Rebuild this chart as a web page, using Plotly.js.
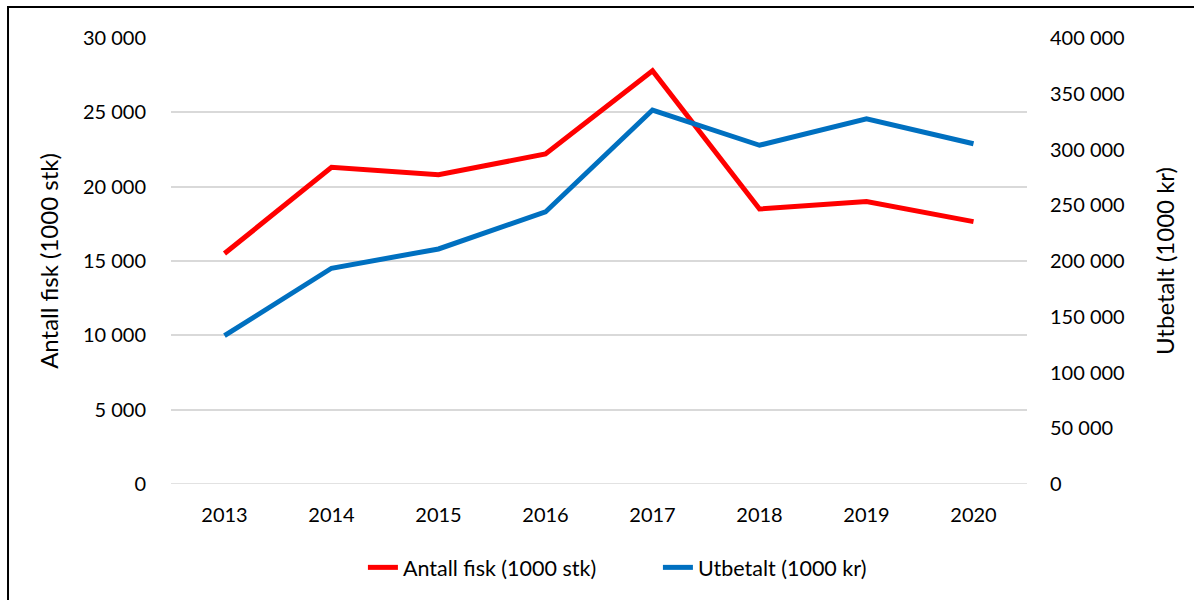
<!DOCTYPE html>
<html>
<head>
<meta charset="utf-8">
<script src="https://cdn.plot.ly/plotly-3.0.1.min.js"></script>
<style>
  html, body { margin: 0; padding: 0; background: #fff; }
  #chart { width: 1194px; height: 600px; }
</style>
</head>
<body>
<div id="chart"></div>
<script>
const years = ['2013', '2014', '2015', '2016', '2017', '2018', '2019', '2020'];
const antallFisk = [15500, 21300, 20800, 22200, 27800, 18500, 19000, 17650];
const utbetalt = [133000, 193500, 210800, 244000, 335400, 303800, 327600, 305200];
const leftTicks = [0, 5000, 10000, 15000, 20000, 25000, 30000];
const rightTicks = [0, 50000, 100000, 150000, 200000, 250000, 300000, 350000, 400000];

const FONT = 'Lato, Open Sans, sans-serif';
const TXT = '#000000';

const traces = [
  {
    x: years, y: antallFisk, name: 'Antall fisk (1000 stk)',
    type: 'scatter', mode: 'lines', yaxis: 'y',
    line: { color: '#ff0000', width: 5 }
  },
  {
    x: years, y: utbetalt, name: 'Utbetalt (1000 kr)',
    type: 'scatter', mode: 'lines', yaxis: 'y2',
    line: { color: '#0070c0', width: 5 }
  }
];

const layout = {
  width: 1194, height: 600,
  margin: { l: 171, r: 167, t: 38, b: 116, autoexpand: false },
  paper_bgcolor: '#ffffff', plot_bgcolor: '#ffffff',
  separators: ', ',
  font: { family: FONT, size: 18, color: TXT },
  showlegend: true,
  legend: {
    orientation: 'h', x: 0.2242, xanchor: 'left', y: -0.141, yanchor: 'top',
    font: { family: FONT, size: 21.5, color: TXT },
    entrywidth: 250, entrywidthmode: 'pixels', traceorder: 'normal'
  },
  xaxis: {
    type: 'category', range: [-0.5, 7.5],
    showgrid: false, zeroline: false, showline: false,
    ticks: 'outside', ticklen: 13, tickcolor: 'rgba(0,0,0,0)',
    tickfont: { family: FONT, size: 20, color: TXT }
  },
  yaxis: {
    range: [0, 30000], tickvals: leftTicks, tickformat: ',d',
    showgrid: true, gridcolor: '#d9d9d9', gridwidth: 1.5,
    zeroline: false, showline: false,
    ticks: 'outside', ticklen: 20, tickcolor: 'rgba(0,0,0,0)',
    tickfont: { family: FONT, size: 20, color: TXT },
    title: { text: 'Antall fisk (1000 stk)', font: { family: FONT, size: 24, color: TXT }, standoff: 17 }
  },
  yaxis2: {
    range: [0, 400000], tickvals: rightTicks, tickformat: ',d',
    overlaying: 'y', side: 'right',
    showgrid: false, zeroline: false, showline: false,
    ticks: 'outside', ticklen: 18, tickcolor: 'rgba(0,0,0,0)',
    tickfont: { family: FONT, size: 20, color: TXT },
    title: { text: 'Utbetalt (1000 kr)', font: { family: FONT, size: 24, color: TXT }, standoff: 33 }
  },
  shapes: [
    {
      type: 'line', xref: 'paper', yref: 'y',
      x0: 0, x1: 1, y0: leftTicks[0], y1: leftTicks[0],
      line: { color: '#d9d9d9', width: 1.5 }, layer: 'below'
    },
    {
      type: 'rect', xref: 'paper', yref: 'paper',
      x0: -0.1904, x1: 1.21, y0: -0.28, y1: 1.0695,
      line: { color: '#000000', width: 2 }, fillcolor: 'rgba(0,0,0,0)', layer: 'below'
    }
  ]
};

Plotly.newPlot('chart', traces, layout, { displayModeBar: false, responsive: false });
</script>
</body>
</html>
